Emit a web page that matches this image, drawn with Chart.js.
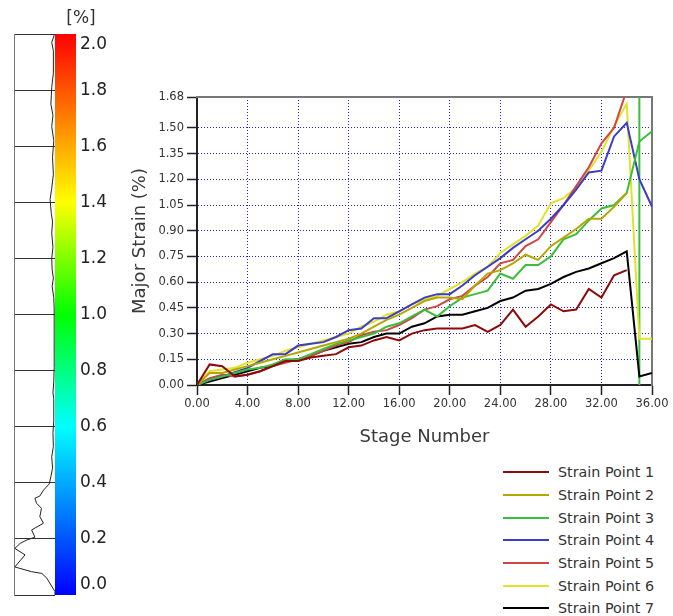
<!DOCTYPE html>
<html>
<head>
<meta charset="utf-8">
<title>Major Strain by Stage</title>
<script src="https://cdn.jsdelivr.net/npm/chart.js@4.4.0/dist/chart.umd.min.js"></script>
<style>
    html, body { margin: 0; padding: 0; background: #fff; }
    body { width: 673px; height: 616px; position: relative; overflow: hidden; font-family: 'DejaVu Sans', Verdana, sans-serif; }
    canvas { position: absolute; }
    #histChart { left: 0; top: 0; }
    #barChart { left: 55px; top: 0; }
    #strainChart { left: 120px; top: 80px; }
    #legend { position: absolute; left: 503px; top: 461px; }
    #legend .row { height: 22.7px; display: flex; align-items: center; }
    #legend .swatch { width: 46px; height: 0; border-top: 2.5px solid #000; margin-right: 9px; }
    #legend .text { font-size: 14.3px; color: #333; white-space: nowrap; }
</style>
</head>
<body>
<canvas id="histChart" width="55" height="616"></canvas>
<canvas id="barChart" width="74" height="620"></canvas>
<canvas id="strainChart" width="553" height="380"></canvas>
<div id="legend"></div>

<script>
// strain data
const stages = [0, 1, 2, 3, 4, 5, 6, 7, 8, 9, 10, 11, 12, 13, 14, 15, 16, 17, 18,
    19, 20, 21, 22, 23, 24, 25, 26, 27, 28, 29, 30, 31, 32, 33, 34, 35, 36];

const point1 = [0, 0.12, 0.11, 0.05, 0.06, 0.08, 0.11, 0.14, 0.14, 0.16, 0.17, 0.18, 0.22, 0.23,
    0.26, 0.28, 0.26, 0.30, 0.32, 0.33, 0.33, 0.33, 0.35, 0.31, 0.35, 0.44, 0.34, 0.40, 0.47,
    0.43, 0.44, 0.56, 0.51, 0.64, 0.67];
const point2 = [0, 0.07, 0.07, 0.09, 0.11, 0.13, 0.15, 0.17, 0.19, 0.21, 0.23, 0.25, 0.27, 0.30,
    0.34, 0.38, 0.41, 0.45, 0.49, 0.51, 0.51, 0.50, 0.58, 0.65, 0.67, 0.71, 0.76, 0.73, 0.81,
    0.86, 0.91, 0.97, 0.97, 1.04, 1.12];
const point3 = [0, 0.03, 0.05, 0.07, 0.09, 0.10, 0.12, 0.15, 0.15, 0.18, 0.21, 0.24, 0.26, 0.28,
    0.30, 0.34, 0.36, 0.40, 0.44, 0.40, 0.46, 0.51, 0.53, 0.55, 0.65, 0.62, 0.70, 0.70, 0.75,
    0.85, 0.88, 0.96, 1.03, 1.05, 1.12, 1.42, 1.48];
const point4 = [0, 0.03, 0.05, 0.075, 0.10, 0.14, 0.18, 0.18, 0.23, 0.24, 0.25, 0.28, 0.32, 0.33,
    0.39, 0.39, 0.43, 0.47, 0.51, 0.53, 0.53, 0.58, 0.64, 0.69, 0.74, 0.80, 0.85, 0.90, 0.97,
    1.05, 1.14, 1.24, 1.25, 1.45, 1.53, 1.20, 1.04];
const point5 = [0, 0.04, 0.06, 0.05, 0.06, 0.08, 0.11, 0.13, 0.15, 0.17, 0.20, 0.23, 0.25, 0.29,
    0.31, 0.32, 0.35, 0.39, 0.44, 0.46, 0.50, 0.52, 0.58, 0.63, 0.71, 0.73, 0.81, 0.85, 0.95,
    1.05, 1.16, 1.27, 1.41, 1.50, 1.72];
const point6 = [0, 0.08, 0.09, 0.10, 0.13, 0.15, 0.17, 0.20, 0.22, 0.24, 0.26, 0.28, 0.30, 0.34,
    0.37, 0.41, 0.43, 0.47, 0.50, 0.52, 0.56, 0.60, 0.65, 0.69, 0.77, 0.82, 0.87, 0.93, 1.06,
    1.09, 1.15, 1.25, 1.36, 1.51, 1.64, 0.27, 0.27];
const point7 = [0, 0.02, 0.04, 0.06, 0.08, 0.10, 0.11, 0.14, 0.15, 0.17, 0.20, 0.22, 0.24, 0.25,
    0.28, 0.30, 0.30, 0.34, 0.36, 0.40, 0.41, 0.41, 0.43, 0.45, 0.49, 0.51, 0.55, 0.56, 0.59,
    0.63, 0.66, 0.68, 0.71, 0.74, 0.78, 0.05, 0.07];

const seriesNames = ['Strain Point 1', 'Strain Point 2', 'Strain Point 3', 'Strain Point 4',
    'Strain Point 5', 'Strain Point 6', 'Strain Point 7'];
const seriesValues = [point1, point2, point3, point4, point5, point6, point7];

// green stage cursor
const markerStage = 35;
const markerSpan = [0, 1.68];

const yTickValues = [0, 0.15, 0.30, 0.45, 0.60, 0.75, 0.90, 1.05, 1.20, 1.35, 1.50, 1.68];

// distribution next to the colour bar
const histStrain = [0.00, 0.012, 0.06, 0.077, 0.083, 0.10, 0.143, 0.166, 0.184, 0.196, 0.206,
    0.232, 0.256, 0.279, 0.309, 0.327, 0.345, 0.353, 0.374, 0.396, 0.422, 0.452, 0.493, 0.529,
    0.58, 0.62, 0.66, 0.70, 0.72, 0.76, 0.81, 0.88, 0.95, 1.02, 1.06, 1.10, 1.13, 1.16, 1.20,
    1.24, 1.29, 1.33, 1.36, 1.41, 1.45, 1.50, 1.56, 1.62, 1.67, 1.71, 1.75, 1.81, 1.86, 1.90,
    1.94, 1.97, 2.00];
const histCount = [0, 0, 20, 32, 57, 98, 73, 98, 85, 69, 49, 57, 28, 37, 33, 45, 49, 37, 28, 14,
    10, 6, 8, 4, 5, 3, 3, 3, 5, 3, 2, 2, 2, 2, 3, 7, 4, 7, 8, 5, 8, 6, 9, 12, 8, 4, 6, 3, 8, 5,
    10, 8, 4, 4, 4, 8, 1];
const scaleRange = [0, 2];

// styles
const FONT = "'DejaVu Sans', Verdana, sans-serif";
const seriesColors = ['#8c0a0a', '#b4a800', '#3cbe3c', '#3c3cc8', '#d04646', '#e2e22a', '#000000'];
const colorbarStops = [[0, '#0000ff'], [0.3, '#00ffff'], [0.5, '#00ff00'], [0.7, '#ffff00'], [1, '#ff0000']];
const gridBlue = 'rgba(0, 0, 200, 0.85)';

Chart.defaults.font.family = FONT;

// histogram
new Chart(document.getElementById('histChart'), {
    type: 'scatter',
    data: {
        datasets: [{
            data: histStrain.map((v, i) => ({ x: histCount[i], y: v })),
            showLine: true,
            borderColor: '#222',
            borderWidth: 1,
            pointRadius: 0
        }]
    },
    options: {
        responsive: false,
        animation: false,
        layout: { padding: { left: 14, top: 34, right: 0, bottom: 21 } },
        plugins: { legend: { display: false }, tooltip: { enabled: false } },
        scales: {
            x: { type: 'linear', min: 0, max: 100, reverse: true, display: false },
            y: {
                type: 'linear', min: scaleRange[0], max: scaleRange[1],
                ticks: { display: false, stepSize: 0.2 },
                grid: { color: '#333', drawTicks: false },
                border: { display: true, color: '#777', width: 1 },
                afterFit: scale => { scale.width = 0; }
            }
        }
    }
});

// colour bar
new Chart(document.getElementById('barChart'), {
    type: 'bar',
    data: {
        labels: ['strain'],
        datasets: [{
            data: [scaleRange],
            borderWidth: 0,
            barPercentage: 1,
            categoryPercentage: 1,
            backgroundColor: function(context) {
                const chart = context.chart;
                const area = chart.chartArea;
                if (!area) return colorbarStops[0][1];
                const g = chart.ctx.createLinearGradient(0, area.bottom, 0, area.top);
                colorbarStops.forEach(stop => g.addColorStop(stop[0], stop[1]));
                return g;
            }
        }]
    },
    options: {
        responsive: false,
        animation: false,
        layout: { padding: { left: 0, right: 22, top: 0, bottom: 25 } },
        plugins: {
            legend: { display: false },
            tooltip: { enabled: false },
            title: {
                display: true, text: '[%]', align: 'center', color: '#333',
                font: { size: 17, weight: 'normal' },
                padding: { top: 8, bottom: 5.6 }
            }
        },
        scales: {
            x: { display: false },
            y: {
                position: 'right', min: scaleRange[0], max: scaleRange[1],
                ticks: {
                    stepSize: 0.2, padding: 4, color: '#222', font: { size: 17 },
                    callback: function(value, index, ticks) {
                        const label = Number(value).toFixed(1);
                        if (index === ticks.length - 1) return ['', label];
                        if (index === 0) return [label, ''];
                        return label;
                    }
                },
                grid: { display: false, drawTicks: false },
                border: { display: false },
                afterFit: scale => { scale.width = 31; }
            }
        }
    }
});

// main line chart
const datasets = seriesValues.map((values, i) => ({
    label: seriesNames[i],
    data: values.map((v, k) => ({ x: stages[k], y: v })),
    borderColor: seriesColors[i],
    backgroundColor: seriesColors[i],
    borderWidth: 2,
    pointRadius: 0,
    tension: 0,
    fill: false
}));
datasets.push({
    label: 'marker',
    data: markerSpan.map(v => ({ x: markerStage, y: v })),
    borderColor: seriesColors[2],
    borderWidth: 2,
    pointRadius: 0,
    fill: false
});

const htmlLegend = {
    id: 'htmlLegend',
    afterUpdate(chart) {
        const box = document.getElementById('legend');
        box.innerHTML = '';
        const items = chart.options.plugins.legend.labels.generateLabels(chart)
            .filter(item => item.datasetIndex < seriesNames.length);
        items.forEach(item => {
            const row = document.createElement('div');
            row.className = 'row';
            row.innerHTML = `<span class="swatch" style="border-top-color:${item.strokeStyle}"></span><span class="text">${item.text}</span>`;
            box.appendChild(row);
        });
    }
};

new Chart(document.getElementById('strainChart'), {
    type: 'line',
    data: { datasets: datasets },
    plugins: [htmlLegend],
    options: {
        responsive: false,
        animation: false,
        layout: { padding: { left: 0, top: 17, right: 21, bottom: 0 } },
        plugins: { legend: { display: false }, tooltip: { enabled: false } },
        scales: {
            x: {
                type: 'linear', min: 0, max: 36,
                ticks: {
                    stepSize: 4, autoSkip: false, maxRotation: 0, padding: 2, color: '#333',
                    font: { size: 11.5 },
                    callback: v => Number(v).toFixed(2)
                },
                grid: { color: gridBlue, lineWidth: 1, tickColor: '#222', tickLength: 10, tickWidth: 1.5 },
                border: { color: '#222', width: 2, dash: [1, 2] },
                title: {
                    display: true, text: 'Stage Number', color: '#3a3a3a',
                    font: { size: 18 }, padding: { top: 0, bottom: 12 }
                },
                afterFit: scale => { scale.height = 75; }
            },
            y: {
                type: 'linear', min: 0, max: 1.68,
                afterBuildTicks: scale => { scale.ticks = yTickValues.map(v => ({ value: v })); },
                ticks: {
                    padding: 3, color: '#333', font: { size: 11.5 },
                    callback: v => Number(v).toFixed(2)
                },
                grid: { color: gridBlue, lineWidth: 1, tickColor: '#222', tickLength: 10, tickWidth: 1.5 },
                border: { color: '#222', width: 2, dash: [1, 2] },
                title: {
                    display: true, text: 'Major Strain (%)', color: '#3a3a3a',
                    font: { size: 18 }, padding: { top: 10, bottom: 0 }
                },
                afterFit: scale => { scale.width = 77; }
            },
            xTop: {
                type: 'linear', position: 'top',
                ticks: { display: false },
                grid: { display: false, drawTicks: false },
                border: { display: true, color: '#777', width: 2 },
                afterFit: scale => { scale.height = 0; }
            },
            yRight: {
                type: 'linear', position: 'right',
                ticks: { display: false },
                grid: { display: false, drawTicks: false },
                border: { display: true, color: '#777', width: 2 },
                afterFit: scale => { scale.width = 0; }
            }
        }
    }
});
</script>
</body>
</html>
